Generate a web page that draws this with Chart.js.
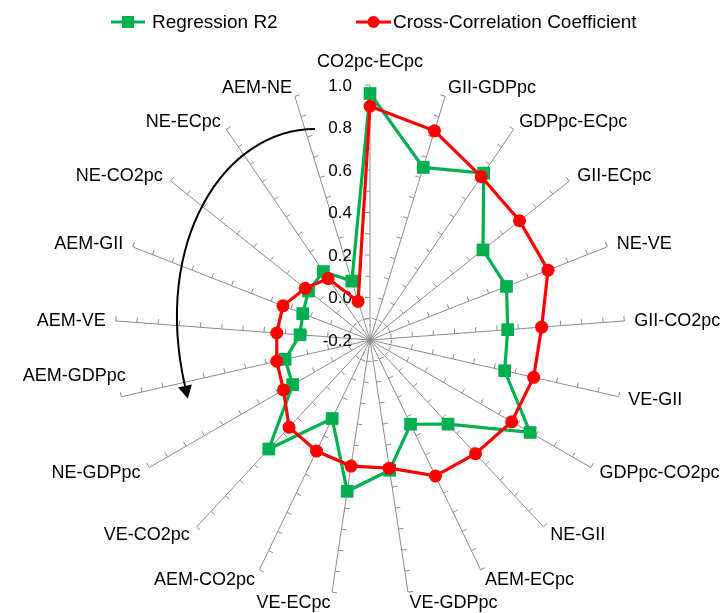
<!DOCTYPE html>
<html>
<head>
<meta charset="utf-8">
<script src="https://cdn.jsdelivr.net/npm/chart.js@4/dist/chart.umd.min.js"></script>
<style>
html,body{margin:0;padding:0;background:#fff;}
#wrap{width:723px;height:613px;}
</style>
</head>
<body>
<div id="wrap"><canvas id="c" width="723" height="613"></canvas></div>
<script>
// ---- data ----
const categories = ["CO2pc-ECpc","GII-GDPpc","GDPpc-ECpc","GII-ECpc","NE-VE","GII-CO2pc","VE-GII",
  "GDPpc-CO2pc","NE-GII","AEM-ECpc","VE-GDPpc","VE-ECpc","AEM-CO2pc","VE-CO2pc","NE-GDPpc",
  "AEM-GDPpc","AEM-VE","AEM-GII","NE-CO2pc","NE-ECpc","AEM-NE"];
const regressionR2 = [0.96,0.65,0.75,0.48,0.49,0.45,0.45,0.67,0.34,0.24,0.42,0.52,0.21,0.50,0.22,0.21,0.13,0.14,0.17,0.19,0.09];
const crossCorrelation = [0.90,0.83,0.73,0.70,0.70,0.61,0.59,0.57,0.53,0.51,0.41,0.40,0.38,0.36,0.27,0.25,0.24,0.24,0.19,0.15,-0.01];
const tickValues = [-0.2,0.0,0.2,0.4,0.6,0.8,1.0];
const seriesNames = ["Regression R2","Cross-Correlation Coefficient"];

const GREEN = "#00B050", RED = "#FF0000", GRID = "#8c8c8c";
const FONT = '"Liberation Sans", Arial, Helvetica, sans-serif';

const decorPlugin = {
  id: "decor",
  beforeDatasetsDraw(chart) {
    const s = chart.scales.r, ctx = chart.ctx;
    ctx.save();
    ctx.strokeStyle = GRID; ctx.lineWidth = 1;
    const n = categories.length;
    for (let i = 0; i < n; i++) {
      const deg = 360 * i / n;
      for (let k = 1; k <= 12; k++) {
        const v = -0.2 + k * 0.1;
        const d = s.getDistanceFromCenterForValue(v);
        const p = s.getPointPosition(i, d);
        const a = p.angle;
        let px = Math.sin(a), py = -Math.cos(a);
        if (deg > 230) { px = -px; py = -py; }
        ctx.beginPath();
        ctx.moveTo(p.x, p.y);
        ctx.lineTo(p.x + px * 5, p.y + py * 5);
        ctx.stroke();
      }
    }
    ctx.fillStyle = "#000";
    ctx.font = "17px " + FONT;
    ctx.textAlign = "right"; ctx.textBaseline = "middle";
    tickValues.forEach(v => {
      const d = s.getDistanceFromCenterForValue(v);
      const p = s.getPointPosition(0, d);
      ctx.fillText(v.toFixed(1), p.x - 18, p.y + 1);
    });
    ctx.restore();
  },
  afterDraw(chart) {
    const s = chart.scales.r, ctx = chart.ctx;
    ctx.save();
    ctx.fillStyle = "#000";
    ctx.font = "18px " + FONT;
    const n = categories.length;
    const R = s.drawingArea + 10;
    for (let i = 0; i < n; i++) {
      const deg = 360 * i / n;
      const p = s.getPointPosition(i, R);
      if (i === 0) {
        ctx.textAlign = "center"; ctx.textBaseline = "middle";
        ctx.fillText(categories[i], p.x, p.y - 13);
      } else {
        ctx.textAlign = deg < 180 ? "left" : "right";
        ctx.textBaseline = "middle";
        // label at 257 deg sits above its spoke end in the reference
        const shift = (i === 15) ? { x: 14, y: -24 } : { x: 0, y: 0 };
        ctx.fillText(categories[i], p.x + shift.x, p.y + 1 + shift.y);
      }
    }
    ctx.font = "19px " + FONT;
    ctx.textAlign = "left"; ctx.textBaseline = "middle";
    const ly = 22;
    ctx.lineWidth = 3;
    ctx.strokeStyle = GREEN; ctx.fillStyle = GREEN;
    ctx.beginPath(); ctx.moveTo(111, ly); ctx.lineTo(145, ly); ctx.stroke();
    ctx.fillRect(122, ly - 6, 12, 12);
    ctx.fillStyle = "#000"; ctx.fillText(seriesNames[0], 152, ly + 1);
    ctx.strokeStyle = RED; ctx.fillStyle = RED;
    ctx.beginPath(); ctx.moveTo(356, ly); ctx.lineTo(391, ly); ctx.stroke();
    ctx.beginPath(); ctx.arc(373.5, ly, 6, 0, Math.PI * 2); ctx.fill();
    ctx.fillStyle = "#000"; ctx.fillText(seriesNames[1], 393, ly + 1);
    const cx = s.xCenter, cy = s.yCenter;
    const P0 = [cx - 55, cy - 211], P1 = [cx - 145, cy - 211], P2 = [cx - 218, cy - 99.5], P3 = [cx - 185, cy + 46];
    ctx.strokeStyle = "#000"; ctx.fillStyle = "#000"; ctx.lineWidth = 2;
    ctx.beginPath(); ctx.moveTo(P0[0], P0[1]);
    ctx.bezierCurveTo(P1[0], P1[1], P2[0], P2[1], P3[0], P3[1]);
    ctx.stroke();
    const dx = 0.22, dy = 0.975;
    ctx.beginPath();
    ctx.moveTo(P3[0] + dx * 13, P3[1] + dy * 13);
    ctx.lineTo(P3[0] + dy * 7, P3[1] - dx * 7);
    ctx.lineTo(P3[0] - dy * 7, P3[1] + dx * 7);
    ctx.closePath(); ctx.fill();
    ctx.restore();
  }
};

new Chart(document.getElementById("c"), {
  type: "radar",
  data: {
    labels: categories,
    datasets: [
      {
        label: seriesNames[0], data: regressionR2,
        borderColor: GREEN, backgroundColor: GREEN, borderWidth: 3.2,
        pointStyle: "rect", pointRadius: 9, pointBorderWidth: 0, pointBackgroundColor: GREEN,
        fill: false, order: 1, clip: false
      },
      {
        label: seriesNames[1], data: crossCorrelation,
        borderColor: RED, backgroundColor: RED, borderWidth: 3.2,
        pointStyle: "circle", pointRadius: 6.5, pointBorderWidth: 0, pointBackgroundColor: RED,
        fill: false, order: 0, clip: false
      }
    ]
  },
  options: {
    responsive: false,
    animation: false,
    devicePixelRatio: 1,
    layout: { padding: { left: 115, right: 98, top: 85, bottom: 18 } },
    elements: { line: { tension: 0 } },
    plugins: { legend: { display: false }, tooltip: { enabled: false } },
    scales: {
      r: {
        min: -0.2, max: 1.0,
        startAngle: 0,
        ticks: { display: false, stepSize: 0.2 },
        grid: { display: false },
        angleLines: { display: true, color: GRID, lineWidth: 1 },
        pointLabels: { display: false }
      }
    }
  },
  plugins: [decorPlugin]
});
</script>
</body>
</html>
